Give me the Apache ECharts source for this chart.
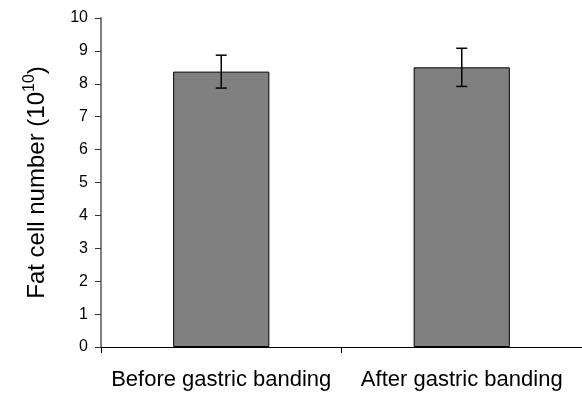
<!DOCTYPE html>
<html>
<head>
<meta charset="utf-8">
<script src="https://cdn.jsdelivr.net/npm/echarts@6/dist/echarts.min.js"></script>
<style>
  html, body { margin: 0; padding: 0; background: #fff; }
  #chart { width: 582px; height: 401px; }
</style>
</head>
<body>
<div id="chart"></div>
<script>
// Fat cell number before and after gastric banding (mean ± SE, ×10^10)
const categories = ['Before gastric banding', 'After gastric banding'];
const means = [8.37, 8.5];
const errors = [0.5, 0.58];
const yTicks = [0, 1, 2, 3, 4, 5, 6, 7, 8, 9, 10];

const FONT = '"Liberation Sans", Arial, sans-serif';

const errorData = means.map((m, i) => [i, m - errors[i], m + errors[i]]);

const chart = echarts.init(document.getElementById('chart'));
chart.setOption({
  animation: false,
  backgroundColor: '#fff',
  grid: { left: 101, right: 0, top: 18, bottom: 54, containLabel: false },
  xAxis: {
    type: 'category',
    data: categories,
    axisLine: { show: true, lineStyle: { color: '#000', width: 1 } },
    axisTick: { show: true, alignWithLabel: false, length: 6, lineStyle: { color: '#000' } },
    axisLabel: { color: '#000', fontFamily: FONT, fontSize: 22, margin: 22, interval: 0, hideOverlap: false },
    splitLine: { show: false }
  },
  yAxis: {
    type: 'value',
    min: yTicks[0],
    max: yTicks[yTicks.length - 1],
    interval: 1,
    axisLine: { show: true, lineStyle: { color: '#808080', width: 2 } },
    axisTick: { show: true, length: 6, lineStyle: { color: '#333' } },
    axisLabel: { color: '#000', fontFamily: FONT, fontSize: 16, margin: 13 },
    splitLine: { show: false },
    name: '{t|Fat cell number (10}{s|10}{t|)}',
    nameLocation: 'middle',
    nameRotate: 90,
    nameGap: 52,
    nameTextStyle: {
      rich: {
        t: { fontFamily: FONT, fontSize: 24, color: '#000', verticalAlign: 'bottom', lineHeight: 27 },
        s: { fontFamily: FONT, fontSize: 16, color: '#000', verticalAlign: 'top', lineHeight: 27, padding: [0, 0, 10, 0] }
      }
    }
  },
  series: [
    {
      type: 'bar',
      data: means,
      barWidth: '40%',
      itemStyle: { color: '#808080', borderColor: '#000', borderWidth: 1 }
    },
    {
      type: 'custom',
      data: errorData,
      z: 10,
      renderItem: function (params, api) {
        const x = api.value(0);
        const lo = api.coord([x, api.value(1)]);
        const hi = api.coord([x, api.value(2)]);
        const half = 5.5;
        const style = { stroke: '#000', lineWidth: 1.5 };
        return {
          type: 'group',
          children: [
            { type: 'line', shape: { x1: hi[0], y1: hi[1], x2: lo[0], y2: lo[1] }, style: style },
            { type: 'line', shape: { x1: hi[0] - half, y1: hi[1], x2: hi[0] + half, y2: hi[1] }, style: style },
            { type: 'line', shape: { x1: lo[0] - half, y1: lo[1], x2: lo[0] + half, y2: lo[1] }, style: style }
          ]
        };
      }
    }
  ]
});
</script>
</body>
</html>
